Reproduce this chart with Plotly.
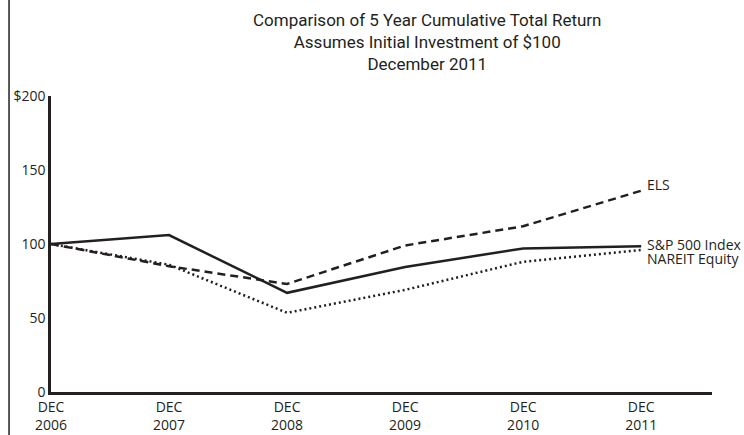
import plotly.graph_objects as go

years = ["2006", "2007", "2008", "2009", "2010", "2011"]
tick_labels = ["DEC<br>" + y for y in years]
els = [100, 85, 73, 99, 112, 136]
sp500 = [100, 106, 67, 84.5, 97, 98.5]
nareit = [100, 86, 53.5, 69, 88, 96]

xs = list(range(len(years)))
ink = "#231f20"
tickfont = dict(family="Open Sans, Noto Sans, sans-serif", size=14, color=ink)

fig = go.Figure()
fig.add_trace(go.Scatter(x=xs, y=els, mode="lines", name="ELS",
                         line=dict(color=ink, width=2.5, dash="8px,5px")))
fig.add_trace(go.Scatter(x=xs, y=nareit, mode="lines", name="NAREIT Equity",
                         line=dict(color=ink, width=2.5, dash="2px,3px")))
fig.add_trace(go.Scatter(x=xs, y=sp500, mode="lines", name="S&P 500 Index",
                         line=dict(color=ink, width=2.5)))

labels = [("ELS", els[-1], 6), ("S&P 500 Index", sp500[-1], 2), ("NAREIT Equity", nareit[-1], -9)]
for text, yv, ys in labels:
    fig.add_annotation(x=xs[-1], y=yv, text=text, showarrow=False, xanchor="left",
                       yanchor="middle", xshift=4, yshift=ys, font=tickfont)

fig.add_annotation(xref="paper", yref="paper", x=0.57, y=1.182, xanchor="center", yanchor="middle",
                   showarrow=False,
                   text="Comparison of 5 Year Cumulative Total Return<br>Assumes Initial Investment of $100<br>December 2011",
                   font=dict(family="Roboto, sans-serif", size=17, color=ink))

fig.add_shape(type="line", xref="paper", yref="paper", x0=-0.0635, x1=-0.0635,
              y0=-0.2, y1=1.4, line=dict(color=ink, width=1.5))

fig.update_layout(
    width=744, height=435,
    margin=dict(l=51, r=32, t=96, b=43),
    paper_bgcolor="white", plot_bgcolor="white",
    showlegend=False,
    xaxis=dict(range=[0, 5.6], tickvals=xs, ticktext=tick_labels, showgrid=False, zeroline=False,
               showline=True, linecolor=ink, linewidth=2.5, ticks="", tickfont=tickfont, automargin=False),
    yaxis=dict(range=[0, 200], tickvals=[0, 50, 100, 150, 200], ticktext=["0", "50", "100", "150", "$200"],
               showgrid=False, zeroline=False, showline=True, linecolor=ink, linewidth=2.5,
               ticks="", tickfont=tickfont, automargin=False),
)
fig.write_html("out.html")
